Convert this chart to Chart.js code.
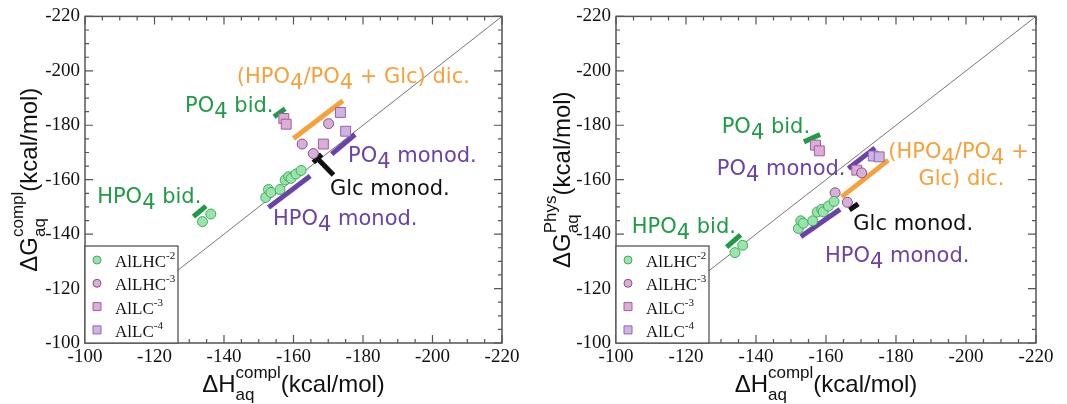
<!DOCTYPE html>
<html>
<head>
<meta charset="utf-8">
<script src="https://cdn.jsdelivr.net/npm/chart.js@4.4.1/dist/chart.umd.min.js"></script>
<style>
  html, body { margin: 0; padding: 0; background: #fff; }
  #wrap { position: relative; width: 1067px; height: 404px; }
  .panel { position: absolute; top: 0; height: 404px; }
  #left { left: 0; width: 533px; }
  #right { left: 533px; width: 534px; }
</style>
</head>
<body>
<div id="wrap">
  <div class="panel" id="left"><canvas id="c1"></canvas></div>
  <div class="panel" id="right"><canvas id="c2"></canvas></div>
</div>
<script>
// axes
const tickValues = [-220, -200, -180, -160, -140, -120, -100];
const minorStep = 5;
const seriesNames = ["AlLHC^{-2}", "AlLHC^{-3}", "AlLC^{-3}", "AlLC^{-4}"];
const diagonal = [[-100, -100], [-220, -220]];

// left panel: [ΔH compl, ΔG compl]
const lhc2L = [[-133.8, -144.6], [-136.2, -147.4], [-152.0, -153.5], [-152.8, -156.4], [-153.5, -155.3],
               [-156.1, -156.4], [-157.6, -159.9], [-158.6, -161.1], [-159.3, -160.5], [-160.7, -162.1], [-162.2, -163.4]];
const lhc3L = [[-162.5, -173.1], [-165.7, -169.6], [-170.1, -180.6]];
const lc3L = [[-157.2, -182.5], [-157.9, -180.4], [-168.6, -173.1]];
const lc4L = [[-173.5, -184.7], [-175.0, -177.8]];
// left panel marker segments
const hpo4BidL = [[-131.2, -146.4], [-134.8, -150.3]];
const po4BidL = [[-154.4, -183.1], [-157.6, -186.1]];
const dicL = [[-160.0, -175.1], [-174.2, -189.0]];
const po4MonoL = [[-171.0, -169.4], [-177.7, -176.6]];
const hpo4MonoL = [[-152.8, -149.8], [-164.8, -161.4]];
const glcBarL = [[-165.7, -166.3], [-168.1, -169.3]];
const glcStemL = [[-166.9, -167.8], [-171.5, -161.7]];

// right panel: [ΔH compl, ΔG Phys]
const lhc2R = [[-134.0, -133.2], [-136.2, -135.9], [-152.1, -142.1], [-152.8, -144.9], [-153.5, -144.0],
               [-156.2, -144.9], [-157.5, -148.1], [-158.8, -149.1], [-159.2, -148.2], [-160.7, -150.3], [-162.3, -152.0]];
const lhc3R = [[-162.6, -155.2], [-166.1, -151.7], [-170.2, -162.5]];
const lc3R = [[-157.0, -172.7], [-158.1, -170.6], [-168.8, -163.5]];
const lc4R = [[-173.5, -168.7], [-175.2, -168.4]];
const hpo4BidR = [[-131.6, -135.2], [-135.6, -139.7]];
const po4BidR = [[-153.7, -173.9], [-158.3, -176.6]];
const po4MonoR = [[-166.4, -164.1], [-174.0, -171.7]];
const dicR = [[-164.5, -153.7], [-177.8, -167.2]];
const hpo4MonoR = [[-152.8, -139.1], [-164.0, -149.1]];
const glcR = [[-166.7, -148.9], [-169.2, -151.1]];

const GREEN = "#1f9a45", ORANGE = "#f6a13a", PURPLE = "#6b42a8", BLACK = "#111";
const markerStyles = [
  { shape: "circle", fill: "#9be3ab", edge: "#3fae5c" },
  { shape: "circle", fill: "#d7b0d7", edge: "#8a4f8c" },
  { shape: "rect", fill: "#dcaed6", edge: "#a25e9e" },
  { shape: "rect", fill: "#cfb3e3", edge: "#8f66b3" }
];

// annotation texts (anchor = left end of baseline, in data units)
const labelsL = [
  { text: "(HPO_4/PO_4 + Glc) dic.", x: -143.7, y: -195.4, color: ORANGE },
  { text: "PO_4 bid.", x: -128.8, y: -184.8, color: GREEN },
  { text: "PO_4 monod.", x: -175.7, y: -166.4, color: PURPLE },
  { text: "Glc monod.", x: -170.5, y: -154.3, color: BLACK },
  { text: "HPO_4 monod.", x: -154.1, y: -143.3, color: PURPLE },
  { text: "HPO_4 bid.", x: -103.5, y: -151.4, color: GREEN }
];
const labelsR = [
  { text: "PO_4 bid.", x: -130.2, y: -177.1, color: GREEN },
  { text: "PO_4 monod.", x: -128.8, y: -161.7, color: PURPLE },
  { text: "(HPO_4/PO_4 +", x: -177.8, y: -167.9, color: ORANGE },
  { text: "Glc) dic.", x: -186.4, y: -158.0, color: ORANGE },
  { text: "Glc monod.", x: -167.8, y: -141.5, color: BLACK },
  { text: "HPO_4 monod.", x: -159.7, y: -129.7, color: PURPLE },
  { text: "HPO_4 bid.", x: -104.5, y: -140.3, color: GREEN }
];

const toXY = arr => arr.map(([x, y]) => ({ x, y }));

function tokens(str) {
  const out = [];
  const re = /([_^])(\{[^}]*\}|.)/g;
  let last = 0, m;
  while ((m = re.exec(str))) {
    if (m.index > last) out.push({ t: str.slice(last, m.index), k: "" });
    let t = m[2];
    if (t[0] === "{") t = t.slice(1, -1);
    out.push({ t, k: m[1] });
    last = re.lastIndex;
  }
  if (last < str.length) out.push({ t: str.slice(last), k: "" });
  return out;
}

function drawRich(ctx, str, x, y, st, align) {
  const toks = tokens(str);
  const items = [];
  let cx = 0;
  for (let i = 0; i < toks.length; i++) {
    const tk = toks[i];
    const font = (tk.k ? st.small : st.size) + "px " + st.family;
    ctx.font = font;
    const w = ctx.measureText(tk.t).width;
    const dy = tk.k === "_" ? st.subDy : tk.k === "^" ? -st.supDy : 0;
    items.push({ t: tk.t, x: cx, dy, font });
    const nx = toks[i + 1];
    if (tk.k && nx && nx.k && nx.k !== tk.k) {
      const f2 = st.small + "px " + st.family;
      ctx.font = f2;
      const w2 = ctx.measureText(nx.t).width;
      items.push({ t: nx.t, x: cx, dy: nx.k === "_" ? st.subDy : -st.supDy, font: f2 });
      cx += Math.max(w, w2);
      i++;
    } else {
      cx += w;
    }
  }
  const start = align === "center" ? -cx / 2 : 0;
  ctx.textAlign = "left";
  ctx.textBaseline = "alphabetic";
  items.forEach(it => {
    ctx.font = it.font;
    ctx.fillText(it.t, x + start + it.x, y + it.dy);
  });
}

const noteStyle = { family: "'DejaVu Sans'", size: 21, small: 21, subDy: 6, supDy: 0 };
const titleStyle = { family: "'Liberation Sans', Arial", size: 24, small: 17, subDy: 8, supDy: 14 };
const legendStyle = { family: "'Liberation Serif', 'Times New Roman'", size: 17, small: 11, subDy: 0, supDy: 8 };

const decorPlugin = {
  id: "decor",
  afterDatasetsDraw(chart, args, opts) {
    const { ctx, chartArea: a, scales: { x, y } } = chart;
    ctx.save();
    // inward ticks on all sides
    ctx.strokeStyle = "#555";
    ctx.lineWidth = 1.2;
    ctx.beginPath();
    for (let v = -220; v <= -100; v += minorStep) {
      const len = v % 20 === 0 ? 8 : 4;
      const px = x.getPixelForValue(v), py = y.getPixelForValue(v);
      ctx.moveTo(px, a.bottom); ctx.lineTo(px, a.bottom - len);
      ctx.moveTo(px, a.top); ctx.lineTo(px, a.top + len);
      ctx.moveTo(a.left, py); ctx.lineTo(a.left + len, py);
      ctx.moveTo(a.right, py); ctx.lineTo(a.right - len, py);
    }
    ctx.stroke();
    ctx.lineWidth = 1.5;
    ctx.strokeRect(a.left, a.top, a.right - a.left, a.bottom - a.top);

    // legend box
    const bw = 93, bh = 97;
    const bx = a.left, by = a.bottom - bh;
    ctx.fillStyle = "#fff";
    ctx.fillRect(bx, by, bw, bh);
    ctx.strokeStyle = "#555";
    ctx.lineWidth = 1.3;
    ctx.strokeRect(bx, by, bw, bh);
    seriesNames.forEach((name, i) => {
      const cy = by + 14 + i * 23.3;
      const s = markerStyles[i];
      ctx.fillStyle = s.fill;
      ctx.strokeStyle = s.edge;
      ctx.lineWidth = 1;
      ctx.beginPath();
      if (s.shape === "circle") ctx.arc(bx + 12, cy, 4, 0, Math.PI * 2);
      else ctx.rect(bx + 8, cy - 4, 8, 8);
      ctx.fill();
      ctx.stroke();
      ctx.fillStyle = "#111";
      drawRich(ctx, name, bx + 30, cy + 7, legendStyle, "left");
    });

    // annotation texts
    opts.labels.forEach(l => {
      ctx.fillStyle = l.color;
      drawRich(ctx, l.text, x.getPixelForValue(l.x), y.getPixelForValue(l.y), noteStyle, "left");
    });

    // axis titles
    ctx.fillStyle = "#111";
    drawRich(ctx, opts.xTitle, (a.left + a.right) / 2, 392, titleStyle, "center");
    ctx.translate(37, (a.top + a.bottom) / 2);
    ctx.rotate(-Math.PI / 2);
    drawRich(ctx, opts.yTitle, 0, 0, titleStyle, "center");
    ctx.restore();
  }
};

function seg(data, color) {
  return { data: toXY(data), showLine: true, borderColor: color, borderWidth: 5,
           borderCapStyle: "butt", pointRadius: 0, pointHoverRadius: 0 };
}

function marks(data, i) {
  const s = markerStyles[i];
  return { data: toXY(data), pointStyle: s.shape, pointRadius: s.shape === "rect" ? 7 : 5,
           pointBackgroundColor: s.fill, pointBorderColor: s.edge, pointBorderWidth: 1 };
}

const tickFont = { family: "Liberation Serif", size: 19 };

function makeChart(id, p) {
  return new Chart(document.getElementById(id), {
    type: "scatter",
    data: {
      datasets: [
        marks(p.lhc2, 0), marks(p.lhc3, 1), marks(p.lc3, 2), marks(p.lc4, 3),
        ...p.segs.map(s => seg(s[0], s[1])),
        { data: toXY(diagonal), showLine: true, borderColor: "#777", borderWidth: 1, pointRadius: 0 }
      ]
    },
    options: {
      responsive: true,
      maintainAspectRatio: false,
      animation: false,
      layout: { padding: { top: 16, right: 31, left: 0, bottom: 0 } },
      plugins: {
        legend: { display: false },
        tooltip: { enabled: false },
        decor: { labels: p.labels, xTitle: p.xTitle, yTitle: p.yTitle }
      },
      scales: {
        x: {
          type: "linear", min: -220, max: -100, reverse: true,
          grid: { display: false, drawTicks: false },
          border: { display: false },
          afterBuildTicks: s => { s.ticks = tickValues.map(v => ({ value: v })); },
          afterFit: s => { s.height = 61; },
          ticks: { font: tickFont, color: "#111", padding: 3, maxRotation: 0 }
        },
        y: {
          type: "linear", min: -220, max: -100, reverse: true,
          grid: { display: false, drawTicks: false },
          border: { display: false },
          afterBuildTicks: s => { s.ticks = tickValues.map(v => ({ value: v })); },
          afterFit: s => { s.width = p.leftW; },
          ticks: { font: tickFont, color: "#111", padding: 5 }
        }
      }
    },
    plugins: [decorPlugin]
  });
}

makeChart("c1", {
  lhc2: lhc2L, lhc3: lhc3L, lc3: lc3L, lc4: lc4L,
  segs: [[hpo4BidL, GREEN], [po4BidL, GREEN], [dicL, ORANGE], [po4MonoL, PURPLE],
         [hpo4MonoL, PURPLE], [glcBarL, BLACK], [glcStemL, BLACK]],
  labels: labelsL,
  xTitle: "ΔH_{aq}^{compl}(kcal/mol)",
  yTitle: "ΔG_{aq}^{compl}(kcal/mol)",
  leftW: 85
});

makeChart("c2", {
  lhc2: lhc2R, lhc3: lhc3R, lc3: lc3R, lc4: lc4R,
  segs: [[hpo4BidR, GREEN], [po4BidR, GREEN], [po4MonoR, PURPLE], [dicR, ORANGE],
         [hpo4MonoR, PURPLE], [glcR, BLACK]],
  labels: labelsR,
  xTitle: "ΔH_{aq}^{compl}(kcal/mol)",
  yTitle: "ΔG_{aq}^{Phys}(kcal/mol)",
  leftW: 83
});
</script>
</body>
</html>
